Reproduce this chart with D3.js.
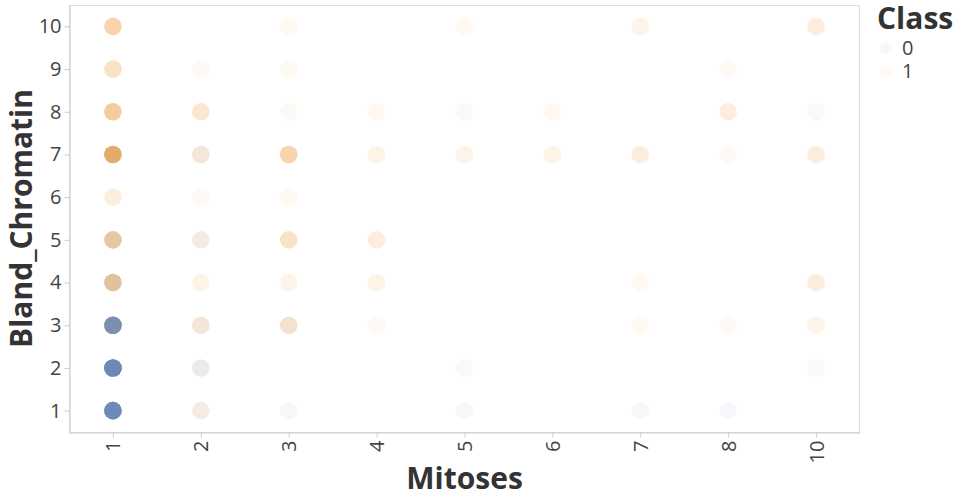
<!DOCTYPE html>
<html>
<head>
<meta charset="utf-8">
<script src="https://cdn.jsdelivr.net/npm/d3@7"></script>
<style>
  html, body { margin: 0; padding: 0; background: #fff; }
  svg { display: block; font-family: "Open Sans", sans-serif; }
</style>
</head>
<body>
<svg id="chart" width="960" height="500"></svg>
<script>
// ---- data ----
const mitosesLevels = ["1", "2", "3", "4", "5", "6", "7", "8", "10"];
const chromatinLevels = ["1", "2", "3", "4", "5", "6", "7", "8", "9", "10"];
const classLevels = ["0", "1"];
const classColors = ["#4c78a8", "#f58518"];
// [Mitoses, Bland_Chromatin, number of overlapping points] for Class 0
const class0Cells = [
  ["1", "1", 30], ["1", "2", 31], ["1", "3", 26], ["1", "4", 3], ["1", "5", 2],
  ["1", "7", 2],
  ["2", "1", 1], ["2", "2", 2], ["2", "3", 1], ["2", "5", 1], ["2", "7", 1],
  ["3", "1", 1], ["3", "3", 1],
  ["5", "1", 1], ["7", "1", 1], ["8", "1", 1]
];
// [Mitoses, Bland_Chromatin, number of overlapping points] for Class 1
const class1Cells = [
  ["1", "1", 1], ["1", "2", 1], ["1", "3", 3], ["1", "4", 9], ["1", "5", 9],
  ["1", "6", 3], ["1", "7", 18], ["1", "8", 10], ["1", "9", 5], ["1", "10", 8],
  ["2", "1", 2], ["2", "2", 1], ["2", "3", 3], ["2", "4", 2], ["2", "5", 2],
  ["2", "6", 1], ["2", "7", 3], ["2", "8", 4], ["2", "9", 1],
  ["3", "3", 4], ["3", "4", 2], ["3", "5", 5], ["3", "6", 1], ["3", "7", 8],
  ["3", "8", 1], ["3", "9", 1], ["3", "10", 1],
  ["4", "3", 1], ["4", "4", 2], ["4", "5", 3], ["4", "7", 2], ["4", "8", 1],
  ["5", "2", 1], ["5", "7", 2], ["5", "8", 1], ["5", "10", 1],
  ["6", "7", 2], ["6", "8", 1],
  ["7", "3", 1], ["7", "4", 1], ["7", "7", 3], ["7", "10", 2],
  ["8", "3", 1], ["8", "7", 1], ["8", "8", 3], ["8", "9", 1],
  ["10", "2", 1], ["10", "3", 2], ["10", "4", 3], ["10", "7", 3], ["10", "8", 1], ["10", "10", 3]
];

// ---- expand into individual points, interleaving the classes within each cell ----
const cellMap = new Map();
function addCells(cells, cls) {
  cells.forEach(([m, b, n]) => {
    const key = m + "|" + b;
    if (!cellMap.has(key)) cellMap.set(key, { m, b, counts: [0, 0] });
    cellMap.get(key).counts[cls] += n;
  });
}
addCells(class0Cells, 0);
addCells(class1Cells, 1);
const records = [];
cellMap.forEach(c => {
  const total = c.counts[0] + c.counts[1];
  const used = [0, 0];
  for (let i = 0; i < total; i++) {
    const target1 = Math.round((i + 1) * c.counts[1] / total);
    const cls = used[1] < target1 ? 1 : 0;
    const realCls = used[cls] < c.counts[cls] ? cls : 1 - cls;
    used[realCls]++;
    records.push({ Mitoses: c.m, Bland_Chromatin: c.b, Class: classLevels[realCls] });
  }
});

// ---- layout ----
const svg = d3.select("#chart");
const plot = { left: 69, top: 5, right: 860, bottom: 432 };
const pointOpacity = 0.05;
const radius = 8.8;

const x = d3.scalePoint().domain(mitosesLevels).range([plot.left, plot.right]).padding(0.5);
const y = d3.scalePoint().domain(chromatinLevels.slice().reverse()).range([plot.top, plot.bottom]).padding(0.5);
const color = d3.scaleOrdinal().domain(classLevels).range(classColors);

// plot frame
svg.append("rect")
  .attr("x", plot.left + 0.5).attr("y", plot.top + 0.5)
  .attr("width", plot.right - plot.left - 1).attr("height", plot.bottom - plot.top)
  .attr("fill", "none").attr("stroke", "#ddd");

// points
svg.append("g").selectAll("circle")
  .data(records)
  .join("circle")
  .attr("cx", d => x(d.Mitoses))
  .attr("cy", d => y(d.Bland_Chromatin))
  .attr("r", radius)
  .attr("fill", d => color(d.Class))
  .attr("fill-opacity", pointOpacity);

// axes
const xAxis = svg.append("g")
  .attr("transform", `translate(0,${plot.bottom + 0.5})`)
  .call(d3.axisBottom(x).tickSize(5).tickSizeOuter(0).tickPadding(3));
xAxis.select(".domain").attr("stroke", "#ccc");
xAxis.selectAll(".tick line").attr("stroke", "#ccc");
xAxis.selectAll(".tick text")
  .attr("transform", "rotate(-90)")
  .attr("x", -8).attr("y", 0).attr("dy", "0.35em")
  .attr("text-anchor", "end")
  .attr("font-size", 20).attr("fill", "#444")
  .attr("font-family", "Open Sans");

const yAxis = svg.append("g")
  .attr("transform", `translate(${plot.left + 0.5},0)`)
  .call(d3.axisLeft(y).tickSize(5).tickSizeOuter(0).tickPadding(3));
yAxis.select(".domain").attr("stroke", "#ccc");
yAxis.selectAll(".tick line").attr("stroke", "#ccc");
yAxis.selectAll(".tick text")
  .attr("font-size", 20).attr("fill", "#444")
  .attr("font-family", "Open Sans");

// axis titles
svg.append("text")
  .attr("x", (plot.left + plot.right) / 2).attr("y", 489)
  .attr("text-anchor", "middle")
  .attr("font-size", 30).attr("font-weight", "bold").attr("fill", "#333")
  .text("Mitoses");
svg.append("text")
  .attr("transform", `translate(32,${(plot.top + plot.bottom) / 2}) rotate(-90)`)
  .attr("text-anchor", "middle")
  .attr("font-size", 30).attr("font-weight", "bold").attr("fill", "#333")
  .text("Bland_Chromatin");

// legend
const legend = svg.append("g").attr("transform", "translate(877,0)");
legend.append("text")
  .attr("x", 0).attr("y", 29)
  .attr("font-size", 30).attr("font-weight", "bold").attr("fill", "#333")
  .text("Class");
const items = legend.selectAll("g.item")
  .data(classLevels)
  .join("g").attr("class", "item")
  .attr("transform", (d, i) => `translate(0,${48 + i * 23})`);
items.append("circle")
  .attr("cx", 9).attr("cy", 0).attr("r", 6)
  .attr("fill", d => color(d)).attr("fill-opacity", pointOpacity);
items.append("text")
  .attr("x", 25).attr("y", 0).attr("dy", "0.35em")
  .attr("font-size", 20).attr("fill", "#444")
  .text(d => d);
</script>
</body>
</html>
